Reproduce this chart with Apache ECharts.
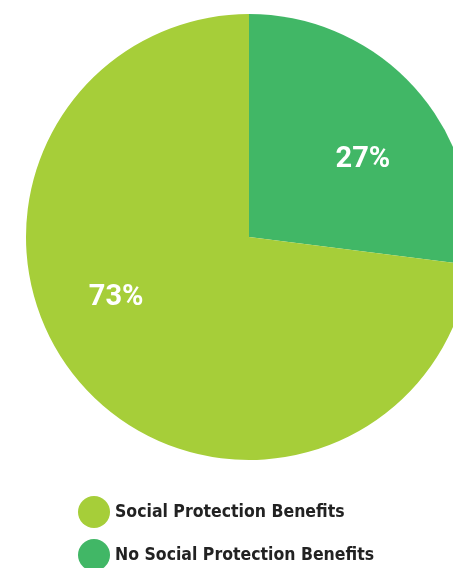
<!DOCTYPE html>
<html><head><meta charset="utf-8">
<script src="https://cdn.jsdelivr.net/npm/echarts@6/dist/echarts.min.js"></script>
<style>html,body{margin:0;padding:0;background:#fff}#c{width:453px;height:568px}</style>
</head><body><div id="c"></div>
<script>
const categories = ['No Social Protection Benefits', 'Social Protection Benefits'];
const values = [27, 73];
const legendOrder = ['Social Protection Benefits', 'No Social Protection Benefits'];
const colors = ['#41b766', '#a6ce39'];
const labelOffsets = [[28, -2], [-47, -15]];

const chart = echarts.init(document.getElementById('c'));
chart.setOption({
  animation: false,
  legend: {
    data: legendOrder,
    orient: 'vertical',
    left: 73, top: 491, height: 120,
    icon: 'circle',
    itemWidth: 32, itemHeight: 32, itemGap: 11,
    textStyle: { fontFamily: '"DejaVu Sans Condensed", Roboto, sans-serif', fontWeight: 'bold', fontSize: 17.5, color: '#222' }
  },
  series: [{
    type: 'pie',
    center: [249, 237],
    radius: 223,
    startAngle: 90,
    clockwise: true,
    silent: true,
    label: {
      show: true, position: 'inside',
      formatter: '{c}%',
      color: '#fff', fontFamily: 'Roboto', fontWeight: 'bold', fontSize: 29
    },
    labelLine: { show: false },
    data: categories.map((n, i) => ({
      name: n, value: values[i],
      itemStyle: { color: colors[i] },
      label: { offset: labelOffsets[i] }
    }))
  }]
});
</script></body></html>
